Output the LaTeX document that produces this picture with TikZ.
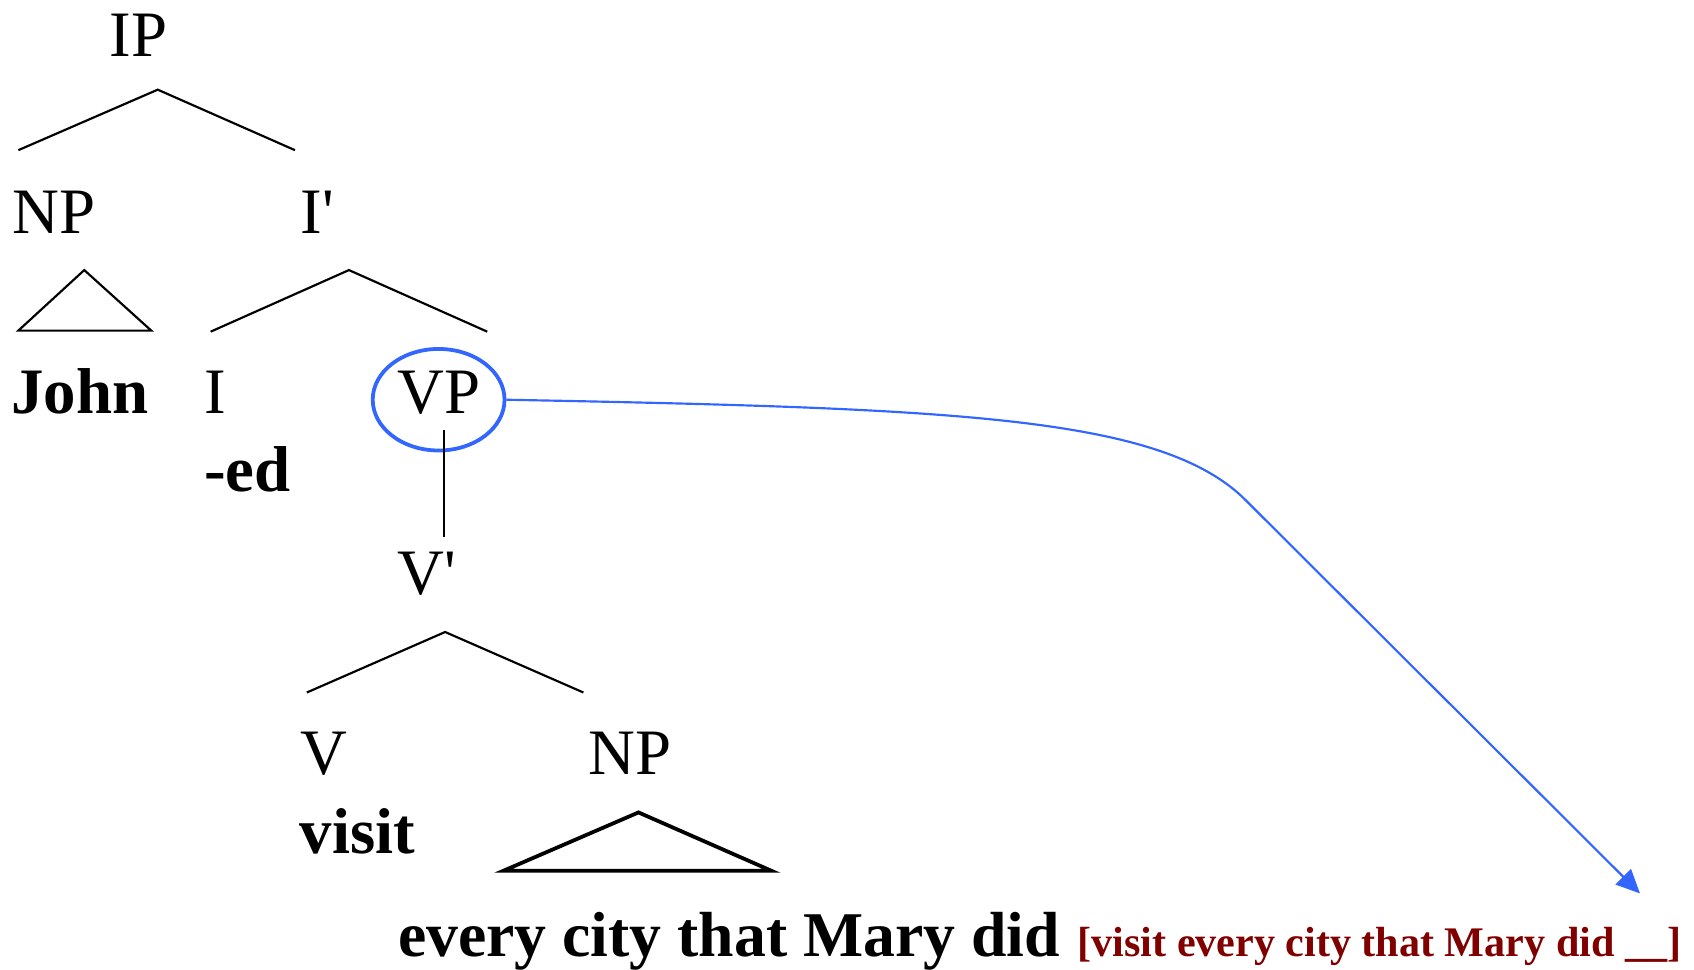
\documentclass[tikz,border=0pt]{standalone}
\usepackage{fontspec}
\setmainfont{Liberation Serif}
\usetikzlibrary{shapes.geometric,arrows.meta}
\definecolor{ringblue}{RGB}{51,102,255}
\definecolor{glossred}{RGB}{128,0,0}
\tikzset{
	cat/.style={anchor=base,inner sep=0pt,font=\fontsize{30}{36}\selectfont},
	word/.style={cat,font=\fontsize{30}{36}\selectfont\bfseries},
	gloss/.style={anchor=base west,inner sep=0pt,text=glossred,font=\fontsize{19.5}{24}\selectfont\bfseries},
	branch/.style={line width=1pt},
	ring/.style={draw=ringblue,line width=1.75pt,ellipse,minimum width=61pt,minimum height=47pt,inner sep=0pt}
}
\begin{document}
\begin{tikzpicture}[x=0.5pt,y=-0.5pt]
	\useasboundingbox (0,0) rectangle (1568,897);
	\node[cat] (IP) at (128,52) {IP};
	\node[cat] (NPa) at (50,216) {NP};
	\node[cat] (Ib) at (294,216) {I\textquotesingle};
	\node[word] (J) at (74,383) {John};
	\node[cat] (I) at (199,383) {I};
	\node[cat] (VP) at (406,383) {VP};
	\node[ring] (R) at (406,370) {};
	\node[word] (ED) at (229,455) {-ed};
	\node[cat] (Vb) at (395,550) {V\textquotesingle};
	\node[cat] (V) at (300,717) {V};
	\node[cat] (NPb) at (583,717) {NP};
	\node[word] (VS) at (331,790) {visit};
	\node[word,anchor=base west,font=\fontsize{29.5}{36}\selectfont\bfseries] (E) at (368,885) {every city that Mary did};
	\node[gloss] (G) at (997,885) {[visit every city that Mary did \_\_]};

	\coordinate (A1) at (146,83);
	\coordinate (A2) at (17,139);
	\coordinate (A3) at (273,139);
	\coordinate (B1) at (323,250);
	\coordinate (B2) at (195,307);
	\coordinate (B3) at (451,307);
	\coordinate (C1) at (412,585);
	\coordinate (C2) at (284,641);
	\coordinate (C3) at (540,641);
	\coordinate (T1) at (78,250);
	\coordinate (T2) at (17,306);
	\coordinate (T3) at (140,306);
	\coordinate (U1) at (591,752);
	\coordinate (U2) at (466,806);
	\coordinate (U3) at (714,806);
	\coordinate (K) at (1150,460);
	\coordinate (Z) at (1518,827);

	\draw[branch] (A2) -- (A1) -- (A3);
	\draw[branch] (B2) -- (B1) -- (B3);
	\draw[branch] (C2) -- (C1) -- (C3);
	\draw[branch] (T1) -- (T2) -- (T3) -- cycle;
	\draw[line width=1.75pt] (U1) -- (U2) -- (U3) -- cycle;
	\draw[branch] ([xshift=2.5pt,yshift=-7pt]VP.south) -- ([xshift=2.5pt,yshift=6.5pt]VP.south |- Vb.north);

	\draw[ringblue,line width=1pt,-{Triangle[length=11pt,width=10pt]}] (R.east) .. controls (880,378) and (1070,385) .. (K) -- (Z);
\end{tikzpicture}
\end{document}
